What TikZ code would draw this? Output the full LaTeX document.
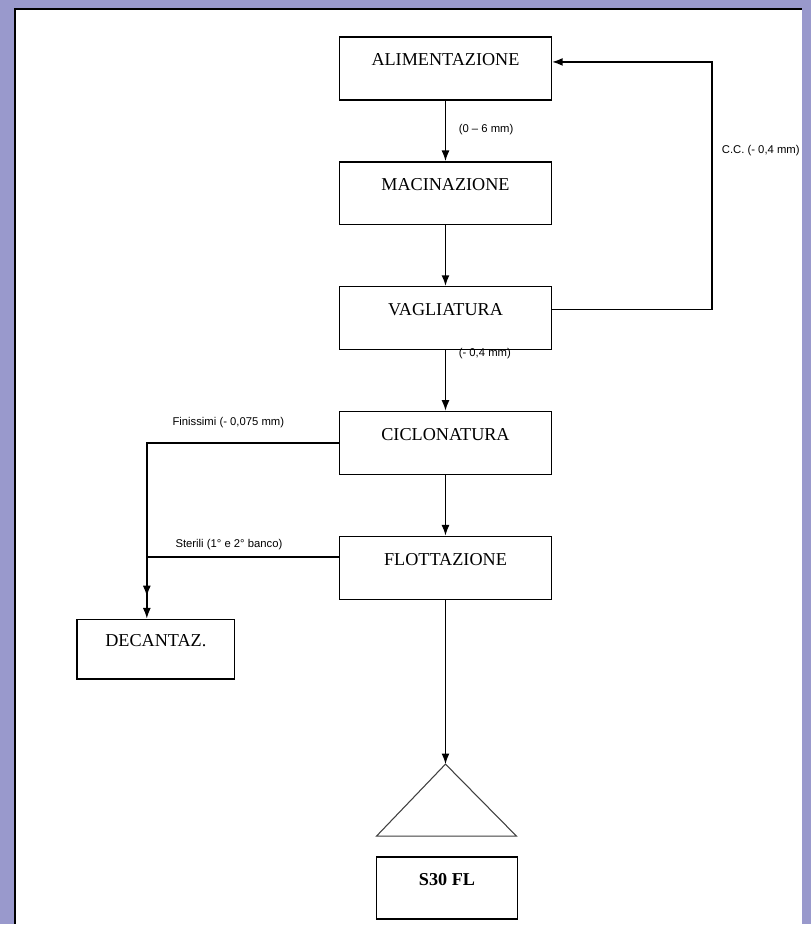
\documentclass[tikz,border=0pt]{standalone}
\usepackage{fontspec}
\setmainfont{Liberation Serif}
\newfontfamily\notefont{Liberation Sans}
\usepackage{tikz}
\usetikzlibrary{positioning,arrows.meta}
\definecolor{slidebg}{RGB}{153,153,204}

\begin{document}
\begin{tikzpicture}[x=0.02646cm,y=-0.02646cm,>={Latex[length=8pt,width=6pt]},line width=1.1pt,
  main/.style={draw,rectangle,line width=1.1pt,minimum width=5.61cm,minimum height=1.667cm,font=\fontsize{13.7}{15}\selectfont,text depth=13pt},
  note/.style={font=\notefont\fontsize{8.5}{10}\selectfont,anchor=west,inner sep=0pt},
  node distance={3.307cm}]
% page
\fill[slidebg] (0,0) rectangle (812,925);
\fill[white] (15,9) rectangle (803,925);
\draw[line width=1.6pt] (15,925) -- (15,9) -- (803,9);
% main line
\node[main] (alim) at (446,68.5) {ALIMENTAZIONE};
\node[main] (macin) [below of=alim] {MACINAZIONE};
\node[main] (vagl) [below of=macin] {VAGLIATURA};
\node[main] (ciclo) [below of=vagl] {CICLONATURA};
\node[main] (flott) [below of=ciclo] {FLOTTAZIONE};
\node[main,minimum width=4.18cm,minimum height=1.587cm] (decant) at (156,650) {DECANTAZ.};
\node[main,minimum width=3.73cm,minimum height=1.64cm,font=\fontsize{13.7}{15}\selectfont\bfseries] (s30) at (447.5,889) {S30 FL};
\coordinate (apex) at (446,765);
\draw[line width=0.8pt,black!75] (377,837) -- (apex) -- (517,837) -- cycle;
% arrows
\draw[->] (alim) -- (macin) node[note,pos=0.48,xshift=9.5pt] (lab06) {(0 – 6 mm)};
\draw[->] (macin) -- (vagl);
\draw[->] (vagl) -- (ciclo) node[note,pos=0.06,xshift=9.5pt] (lab04) {(- 0,4 mm)};
\draw[->] (ciclo) -- (flott);
\draw[->] (flott) -- (apex);
% return of the screen
\coordinate (ret) at (713,310);
\draw[->] (vagl.east |- ret) -- (ret) |- ([shift={(0,-6.5)}]alim.east);
\node[note] (labcc) at (722,151) {C.C. (- 0,4 mm)};
% side streams
\coordinate (fin) at (147,597);
\draw[->] (ciclo.west) -| (fin);
\node[note] (labfin) at (172,423) {Finissimi (- 0,075 mm)};
\draw[->] ([shift={(0,-11)}]flott.west) -| ([shift={(-9,0)}]decant.north);
\node[note] (labste) at (175,545) {Sterili (1° e 2° banco)};
\end{tikzpicture}
\end{document}
